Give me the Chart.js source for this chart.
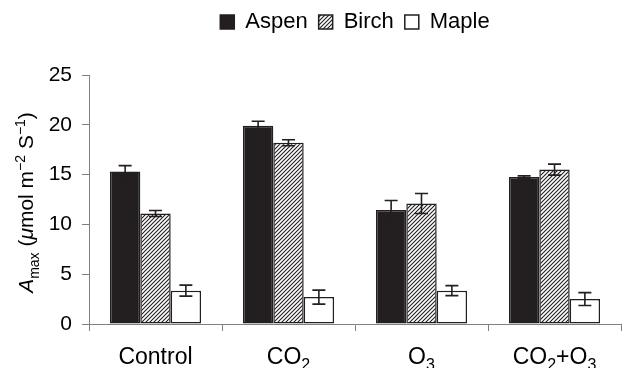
<!DOCTYPE html>
<html>
<head>
<meta charset="utf-8">
<script src="https://cdn.jsdelivr.net/npm/chart.js@4.4.0/dist/chart.umd.min.js"></script>
<style>
  body { margin: 0; background: #fff; }
  #wrap { width: 626px; height: 368px; }
</style>
</head>
<body>
<div id="wrap"><canvas id="amaxChart"></canvas></div>
<script>
// treatments
const categories = ['Control', 'CO_2', 'O_3', 'CO_2+O_3'];
const species = ['Aspen', 'Birch', 'Maple'];

const aspen = [15.3, 19.9, 11.45, 14.75];
const birch = [11.1, 18.2, 12.1, 15.5];
const maple = [3.35, 2.7, 3.35, 2.5];

const aspenErr = [0.6, 0.45, 0.95, 0.12];
const birchErr = [0.3, 0.3, 1.0, 0.55];
const mapleErr = [0.55, 0.7, 0.5, 0.65];

const yTicks = [0, 5, 10, 15, 20, 25];

const ink = '#231f20';
const axisGrey = '#808080';
const fontFamily = '"Liberation Sans", Arial, Helvetica, sans-serif';

const makeHatch = () => {
  const c = document.createElement('canvas');
  c.width = 4; c.height = 4;
  const g = c.getContext('2d');
  g.fillStyle = '#fff';
  g.fillRect(0, 0, 4, 4);
  g.strokeStyle = ink;
  g.lineWidth = 1.1;
  g.beginPath();
  g.moveTo(0, 4); g.lineTo(4, 0);
  g.moveTo(-1, 1); g.lineTo(1, -1);
  g.moveTo(3, 5); g.lineTo(5, 3);
  g.stroke();
  return g.createPattern(c, 'repeat');
};

// rich text: parts with sub / sup / italic
const partFont = (p, size) => (p.italic ? 'italic ' : '') + ((p.sub || p.sup) ? Math.round(size * 0.68) : size) + 'px ' + fontFamily;
const measureParts = (ctx, parts, size) => {
  let w = 0;
  parts.forEach(p => { ctx.font = partFont(p, size); w += ctx.measureText(p.t).width; });
  return w;
};
const drawParts = (ctx, parts, x, y, size) => {
  parts.forEach(p => {
    ctx.font = partFont(p, size);
    let dy = 0;
    if (p.sub) dy = size * 0.28;
    if (p.sup) dy = -size * 0.38;
    ctx.fillText(p.t, x, y + dy);
    x += ctx.measureText(p.t).width;
  });
};
const parseLabel = (s) => {
  const out = [];
  s.split(/(_\d)/).forEach(seg => {
    if (!seg) return;
    if (seg[0] === '_') out.push({t: seg.slice(1), sub: true});
    else out.push({t: seg});
  });
  return out;
};

const yTitle = [
  {t: 'A', italic: true}, {t: 'max', sub: true}, {t: ' ('}, {t: '\u03bc', italic: true},
  {t: 'mol m'}, {t: '\u22122', sup: true}, {t: ' S'}, {t: '\u22121', sup: true}, {t: ')'}
];

const errorBars = {
  id: 'errorBars',
  afterDatasetsDraw(chart) {
    const ctx = chart.ctx;
    const y = chart.scales.y;
    const errs = [aspenErr, birchErr, mapleErr];
    ctx.save();
    ctx.strokeStyle = ink;
    ctx.lineWidth = 1.6;
    chart.data.datasets.forEach((ds, i) => {
      const meta = chart.getDatasetMeta(i);
      meta.data.forEach((bar, j) => {
        const v = ds.data[j], e = errs[i][j];
        const top = y.getPixelForValue(v + e), bot = y.getPixelForValue(v - e);
        ctx.beginPath();
        ctx.moveTo(bar.x, top); ctx.lineTo(bar.x, bot);
        ctx.moveTo(bar.x - 6.5, top); ctx.lineTo(bar.x + 6.5, top);
        ctx.moveTo(bar.x - 6.5, bot); ctx.lineTo(bar.x + 6.5, bot);
        ctx.stroke();
      });
    });
    ctx.restore();
  }
};

const axisText = {
  id: 'axisText',
  afterDraw(chart) {
    const ctx = chart.ctx;
    const x = chart.scales.x;
    ctx.save();
    ctx.fillStyle = '#000';
    ctx.textBaseline = 'alphabetic';
    ctx.textAlign = 'left';
    categories.forEach((c, i) => {
      const parts = parseLabel(c);
      const w = measureParts(ctx, parts, 23);
      drawParts(ctx, parts, x.getPixelForValue(i) - w / 2, 364, 23);
    });
    const area = chart.chartArea;
    ctx.translate(33, (area.top + area.bottom) / 2 + 3);
    ctx.rotate(-Math.PI / 2);
    const w = measureParts(ctx, yTitle, 21);
    drawParts(ctx, yTitle, -w / 2, 0, 21);
    ctx.restore();
  }
};

const legendHeight = {
  id: 'legendHeight',
  beforeInit(chart) {
    const fit = chart.legend.fit;
    chart.legend.fit = function () { fit.call(this); this.height = 75; };
  }
};

const hatch = makeHatch();

new Chart(document.getElementById('amaxChart'), {
  type: 'bar',
  data: {
    labels: categories,
    datasets: [
      { label: species[0], data: aspen, backgroundColor: ink, hoverBackgroundColor: ink },
      { label: species[1], data: birch, backgroundColor: hatch, hoverBackgroundColor: hatch },
      { label: species[2], data: maple, backgroundColor: '#fff', hoverBackgroundColor: '#fff' }
    ]
  },
  options: {
    responsive: true,
    maintainAspectRatio: false,
    devicePixelRatio: 1,
    animation: false,
    events: [],
    layout: { padding: { left: 0, right: 5, top: 0, bottom: 0 } },
    datasets: {
      bar: {
        borderColor: ink,
        borderWidth: 1.5,
        borderSkipped: false,
        categoryPercentage: 0.685,
        barPercentage: 1
      }
    },
    plugins: {
      legend: {
        position: 'top',
        fullSize: false,
        labels: {
          boxWidth: 14,
          boxHeight: 14,
          padding: 11,
          color: '#000',
          font: { family: fontFamily, size: 22 }
        }
      },
      tooltip: { enabled: false }
    },
    scales: {
      x: {
        grid: { display: true, offset: true, drawOnChartArea: false, tickLength: 7, color: axisGrey },
        border: { color: axisGrey, width: 1 },
        ticks: { display: false },
        afterFit(scale) { scale.height = 44; }
      },
      y: {
        min: 0,
        max: 25,
        afterBuildTicks(scale) { scale.ticks = yTicks.map(v => ({ value: v })); },
        grid: { display: true, drawOnChartArea: false, tickLength: 7, color: axisGrey },
        border: { color: axisGrey, width: 1 },
        ticks: { color: '#000', padding: 10, font: { family: fontFamily, size: 21 } },
        afterFit(scale) { scale.width = 89; }
      }
    }
  },
  plugins: [legendHeight, errorBars, axisText]
});
</script>
</body>
</html>
